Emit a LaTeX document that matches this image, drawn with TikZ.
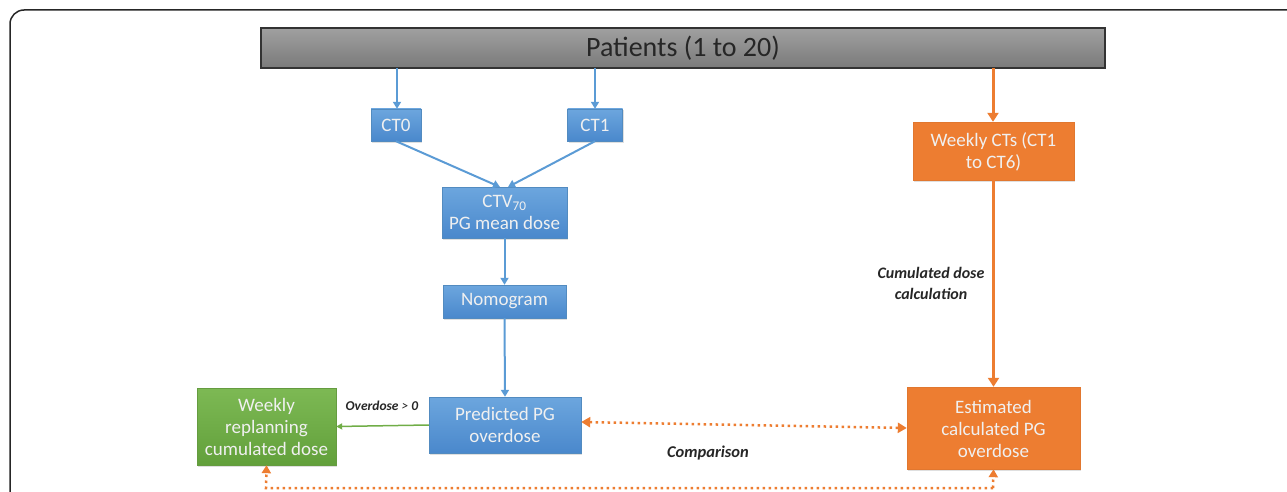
\documentclass[tikz,border=0pt]{standalone}
\usepackage{fontspec}
\setmainfont{Carlito}
\usetikzlibrary{arrows.meta,shadows}
\definecolor{bluebox}{HTML}{5B9BD5}
\definecolor{bluetop}{HTML}{6CA6DE}
\definecolor{bluebot}{HTML}{4A88CC}
\definecolor{orangebox}{HTML}{ED7D31}
\definecolor{greenbox}{HTML}{70AD47}
\definecolor{greentop}{HTML}{7DB954}
\definecolor{greenbot}{HTML}{62A03B}
\definecolor{greytop}{HTML}{A0A0A0}
\definecolor{greybot}{HTML}{7A7A7A}
\definecolor{labeltext}{HTML}{262626}
\tikzset{
  boxbase/.style={rectangle, inner sep=0pt, align=center, text=white!94!black,
    font=\fontsize{19}{22}\selectfont,
    drop shadow={shadow xshift=1.2pt, shadow yshift=-1.5pt, opacity=0.25}},
  bluebox/.style={boxbase, top color=bluetop, bottom color=bluebot, draw=bluebox!90!black, line width=0.4pt},
  orangebox/.style={boxbase, fill=orangebox, draw=orangebox!95!black, line width=0.4pt},
  greenbox/.style={boxbase, top color=greentop, bottom color=greenbot, draw=greenbox!90!black, line width=0.4pt},
  bluearrow/.style={draw=bluebox, line width=2pt, -{Triangle[length=7pt,width=8pt]}},
  orangearrow/.style={draw=orangebox, line width=3pt, -{Triangle[length=9pt,width=11pt]}},
  greenarrow/.style={draw=greenbox, line width=1.5pt, -{Triangle[length=6pt,width=6pt]}},
  dotline/.style={draw=orangebox, line width=2.5pt, dash pattern=on 2.5pt off 3.5pt},
  tiplbl/.style={font=\fontsize{13.5}{16}\selectfont\bfseries\itshape, text=labeltext, align=center, inner sep=0pt},
}
\begin{document}
\begin{tikzpicture}[x=1pt,y=-1pt]
\useasboundingbox (0,0) rectangle (1287,492);
\begin{scope}
\clip (0,0) rectangle (1287,492);
\draw[line width=1.5pt, rounded corners=14pt, draw=black!85] (10,10) rectangle (1320,520);
\end{scope}
% Patients
\node[rectangle, minimum width=844pt, minimum height=40pt, top color=greytop, bottom color=greybot,
  draw=black!80, line width=1.2pt, font=\fontsize{28}{32}\selectfont, text=labeltext] (pat) at (683,48) {Patients (1 to 20)};
% blue branch
\node[bluebox, minimum width=50pt, minimum height=32pt] (ct0) at (396,125) {CT0};
\node[bluebox, minimum width=55pt, minimum height=32pt] (ct1) at (595,125) {CT1};
\node[bluebox, minimum width=125pt, minimum height=51pt] (ctv) at (504.5,212.5) {CTV\textsubscript{70}\\PG mean dose};
\node[bluebox, minimum width=123pt, minimum height=33pt] (nomo) at (504.5,301.5) {Nomogram};
\node[bluebox, minimum width=152pt, minimum height=56pt] (pred) at (505,425) {Predicted PG\\overdose};
\node[greenbox, minimum width=139pt, minimum height=77pt] (repl) at (266.5,426.5) {Weekly\\replanning\\cumulated dose};
% orange branch
\node[orangebox, minimum width=161pt, minimum height=58pt] (wct) at (993.5,151) {\strut Weekly CTs (CT1\\to CT6)};
\node[orangebox, minimum width=173pt, minimum height=82pt] (est) at (993.5,428) {\strut Estimated\\calculated PG\\overdose};
% coordinates
\coordinate (p0) at (397,68);
\coordinate (p1) at (595,68);
\coordinate (p2) at (993,68);
\coordinate (m0) at (500,187);
\coordinate (m1) at (508,187);
\coordinate (b0) at (266,488);
\coordinate (b1) at (993,488);
% blue arrows
\draw[bluearrow] (p0) -- (p0 |- ct0.north);
\draw[bluearrow] (p1) -- (p1 |- ct1.north);
\draw[bluearrow] (ct0.south) -- (m0);
\draw[bluearrow] (ct1.south) -- (m1);
\draw[bluearrow] (ctv.south) -- (nomo.north);
\draw[bluearrow] (nomo.south) -- (pred.north);
% green arrow
\draw[greenarrow] (pred.west) -- (repl.east);
\node[tiplbl] (lover) at (382,406) {Overdose {\mdseries>} 0};
% orange arrows
\draw[orangearrow] (p2) -- (p2 |- wct.north);
\draw[orangearrow] (wct.south) -- (est.north);
\node[tiplbl, font=\fontsize{16}{21}\selectfont\bfseries\itshape] (lcum) at (931,283) {Cumulated dose\\calculation};
% dotted comparison
\draw[dotline, {Triangle[length=9pt,width=10pt]}-{Triangle[length=9pt,width=10pt]}] ([yshift=3pt]pred.east) -- ([yshift=0pt]est.west);
\node[tiplbl, font=\fontsize{16.5}{19}\selectfont\bfseries\itshape] (lcomp) at (708,453) {Comparison};
\draw[dotline, -{Triangle[length=8pt,width=9pt]}] (b1) -- (b0) -- (repl.south);
\draw[dotline, -{Triangle[length=8pt,width=9pt]}] (b1) -- (est.south);
\end{tikzpicture}
\end{document}
